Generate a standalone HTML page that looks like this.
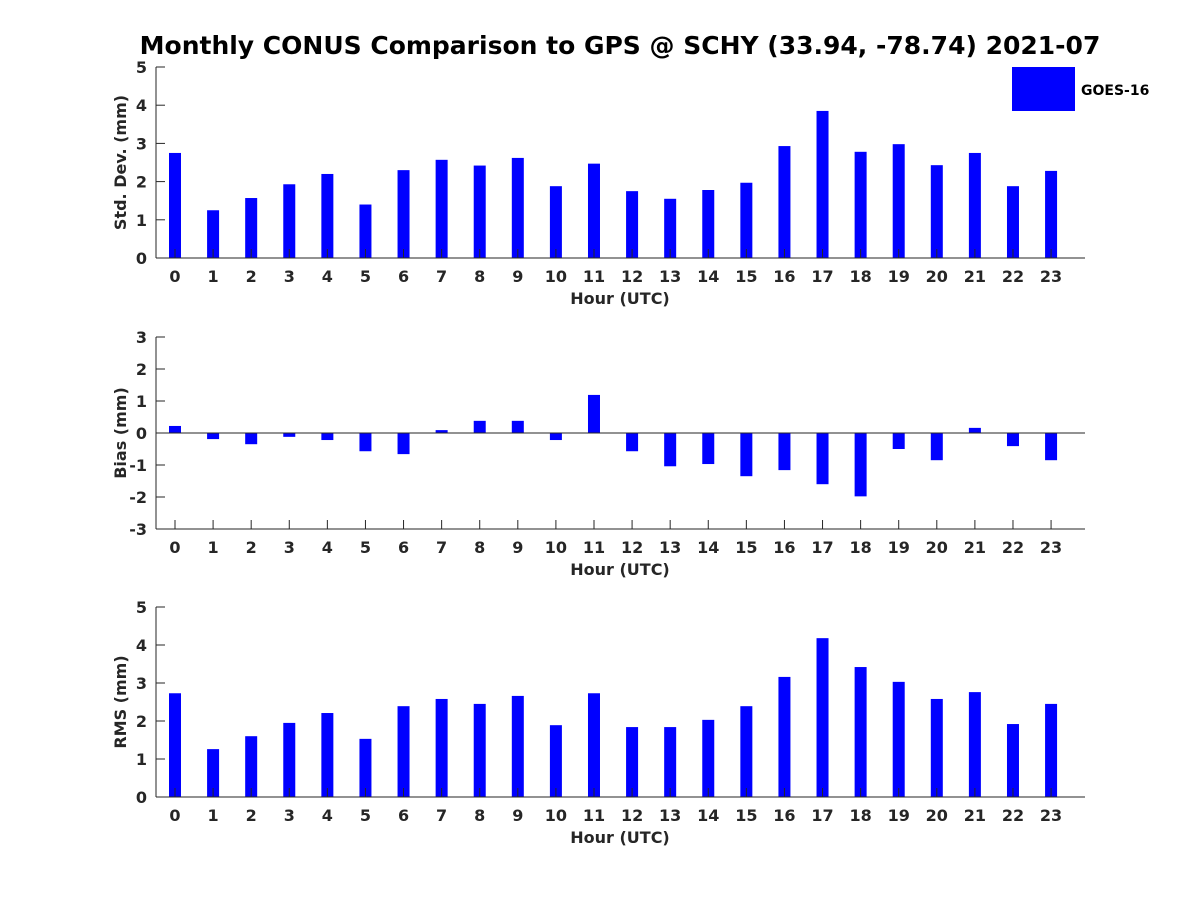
<!DOCTYPE html>
<html><head><meta charset="utf-8"><style>
body{margin:0;background:#fff;}
svg text{font-family:"DejaVu Sans","Liberation Sans",sans-serif;font-weight:bold;fill:#262626;}
</style></head><body>
<svg id="chart" width="1200" height="900" xmlns="http://www.w3.org/2000/svg">
<rect width="1200" height="900" fill="#fff"/>
<text x="620" y="54" text-anchor="middle" font-size="25" style="fill:#000">Monthly CONUS Comparison to GPS @ SCHY (33.94, -78.74) 2021-07</text>
<rect x="1012" y="67" width="63" height="44" fill="#0000ff"/>
<text x="1081" y="95" font-size="14" style="fill:#000">GOES-16</text>
</svg>
<script>
const hours = [0,1,2,3,4,5,6,7,8,9,10,11,12,13,14,15,16,17,18,19,20,21,22,23];
const stdValues = [2.75,1.25,1.57,1.93,2.2,1.4,2.3,2.57,2.42,2.62,1.88,2.47,1.75,1.55,1.78,1.97,2.93,3.85,2.78,2.98,2.43,2.75,1.88,2.28];
const biasValues = [0.22,-0.19,-0.35,-0.12,-0.22,-0.57,-0.66,0.09,0.38,0.38,-0.22,1.19,-0.57,-1.04,-0.97,-1.35,-1.16,-1.6,-1.98,-0.5,-0.85,0.16,-0.41,-0.85];
const rmsValues = [2.73,1.26,1.6,1.95,2.21,1.53,2.39,2.58,2.45,2.66,1.89,2.73,1.84,1.84,2.03,2.39,3.16,4.18,3.42,3.03,2.58,2.76,1.92,2.45];
const stdTicks = [0,1,2,3,4,5];
const biasTicks = [-3,-2,-1,0,1,2,3];
const rmsTicks = [0,1,2,3,4,5];
const ylabels = ['Std. Dev. (mm)','Bias (mm)','RMS (mm)'];

const svg = document.getElementById('chart');
const NS = 'http://www.w3.org/2000/svg';
function mk(tag, attrs, parent){const e=document.createElementNS(NS,tag);for(const k in attrs)e.setAttribute(k,attrs[k]);(parent||svg).appendChild(e);return e;}
const xL=156, xR=1085;
const xScale = h => 175 + h*38.09;

function panel(idx, top, bottom, ymin, ymax, ticks, values, name){
  const g = mk('g',{});
  
  
  const yScale = v => bottom - (v-ymin)/(ymax-ymin)*(bottom-top);
  values.forEach((v,i)=>{
    const y0=yScale(0), y1=yScale(v);
    const r = mk('rect',{x:xScale(hours[i])-6,y:Math.min(y0,y1),width:12,height:Math.abs(y1-y0),fill:'#0000ff'},g);
    
    
  });
  if(ymin<0){ const z=mk('line',{x1:xL,x2:xR,y1:yScale(0),y2:yScale(0),stroke:'#262626','stroke-width':1},g);
    
     }
  mk('line',{x1:xL,x2:xR,y1:bottom,y2:bottom,stroke:'#262626'},g);
  mk('line',{x1:xL,x2:xL,y1:top,y2:bottom,stroke:'#262626'},g);
  ticks.forEach(t=>{
    const y=yScale(t);
    mk('line',{x1:xL,x2:xL+9,y1:y,y2:y,stroke:'#262626'},g);
    const tx=mk('text',{x:xL-9,y:y+6,'text-anchor':'end','font-size':16},g); tx.textContent=t;
    
    
  });
  hours.forEach(h=>{
    const x=xScale(h);
    mk('line',{x1:x,x2:x,y1:bottom,y2:bottom-9,stroke:'#262626'},g);
    const tx=mk('text',{x:x,y:bottom+24,'text-anchor':'middle','font-size':16},g); tx.textContent=h;
    
    
  });
  const xt=mk('text',{x:620,y:bottom+46,'text-anchor':'middle','font-size':16},g); xt.textContent='Hour (UTC)';
  
  
  const cy=(top+bottom)/2;
  const yt=mk('text',{x:126,y:cy,'text-anchor':'middle','font-size':16,transform:'rotate(-90 126 '+cy+')'},g); yt.textContent=ylabels[idx];
  
  
}
panel(0,67,258,0,5,stdTicks,stdValues,'std-dev');
panel(1,337,529,-3,3,biasTicks,biasValues,'bias');
panel(2,607,797,0,5,rmsTicks,rmsValues,'rms');
</script>
</body></html>
